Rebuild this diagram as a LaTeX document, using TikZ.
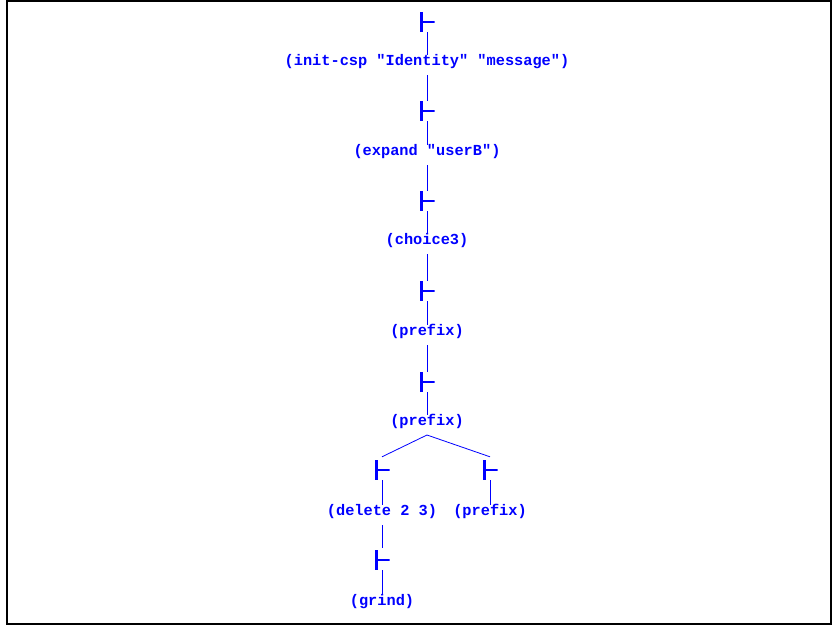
\documentclass[tikz,border=0pt]{standalone}
\usepackage{fontspec}
\setmonofont{Liberation Mono}
\begin{document}
\begin{tikzpicture}[x=1pt,y=-1pt,
  termlbl/.style={anchor=base, inner sep=0pt, text=blue,
    font=\ttfamily\bfseries\fontsize{15.3}{16}\selectfont},
  tstile/.style={inner sep=0pt, minimum width=15pt, minimum height=20pt,
    path picture={
      \fill[blue] (path picture bounding box.north west) rectangle
        ([xshift=3.2pt]path picture bounding box.south west);
      \fill[blue] ([yshift=1.4pt]path picture bounding box.west) rectangle
        ([yshift=-1.4pt]path picture bounding box.east);}},
  link/.style={draw=blue, line width=0.8pt}]
\useasboundingbox (0,0) rectangle (832,626);
\draw[line width=2.5pt] (7,1) rectangle (831,624);

% proof steps: turnstile over the rule that was applied
\node[tstile] (t1) at (427,22) {};
\node[termlbl] (l1) at (427,65.5) {(init-csp "Identity" "message")};
\node[tstile] (t2) at (427,111) {};
\node[termlbl] (l2) at (427,155.5) {(expand "userB")};
\node[tstile] (t3) at (427,201) {};
\node[termlbl] (l3) at (427,244.5) {(choice3)};
\node[tstile] (t4) at (427,291) {};
\node[termlbl] (l4) at (427,335.5) {(prefix)};
\node[tstile] (t5) at (427,382) {};
\node[termlbl] (l5) at (427,425.5) {(prefix)};
\node[tstile] (t6) at (382,470) {};
\node[termlbl] (l6) at (382,515.5) {(delete 2 3)};
\node[tstile] (t7) at (490,470) {};
\node[termlbl] (l7) at (490,515.5) {(prefix)};
\node[tstile] (t8) at (382,560) {};
\node[termlbl] (l8) at (382,605.5) {(grind)};

% turnstile down into its rule
\foreach \i in {1,...,8}
  \draw[link] (t\i.south) -- ([yshift=10.5pt]l\i.base);

% rule down to the next step
\draw[link] ([yshift=-9.5pt]l1.base) -- (t2.north);
\draw[link] ([yshift=-9.5pt]l2.base) -- (t3.north);
\draw[link] ([yshift=-9.5pt]l3.base) -- (t4.north);
\draw[link] ([yshift=-9.5pt]l4.base) -- (t5.north);
\draw[link] ([yshift=-9.5pt]l5.base) -- ([yshift=3pt]t6.north);
\draw[link] ([yshift=-9.5pt]l5.base) -- ([yshift=3pt]t7.north);
\draw[link] ([yshift=-9.5pt]l6.base) -- ([yshift=2pt]t8.north);
\end{tikzpicture}
\end{document}
